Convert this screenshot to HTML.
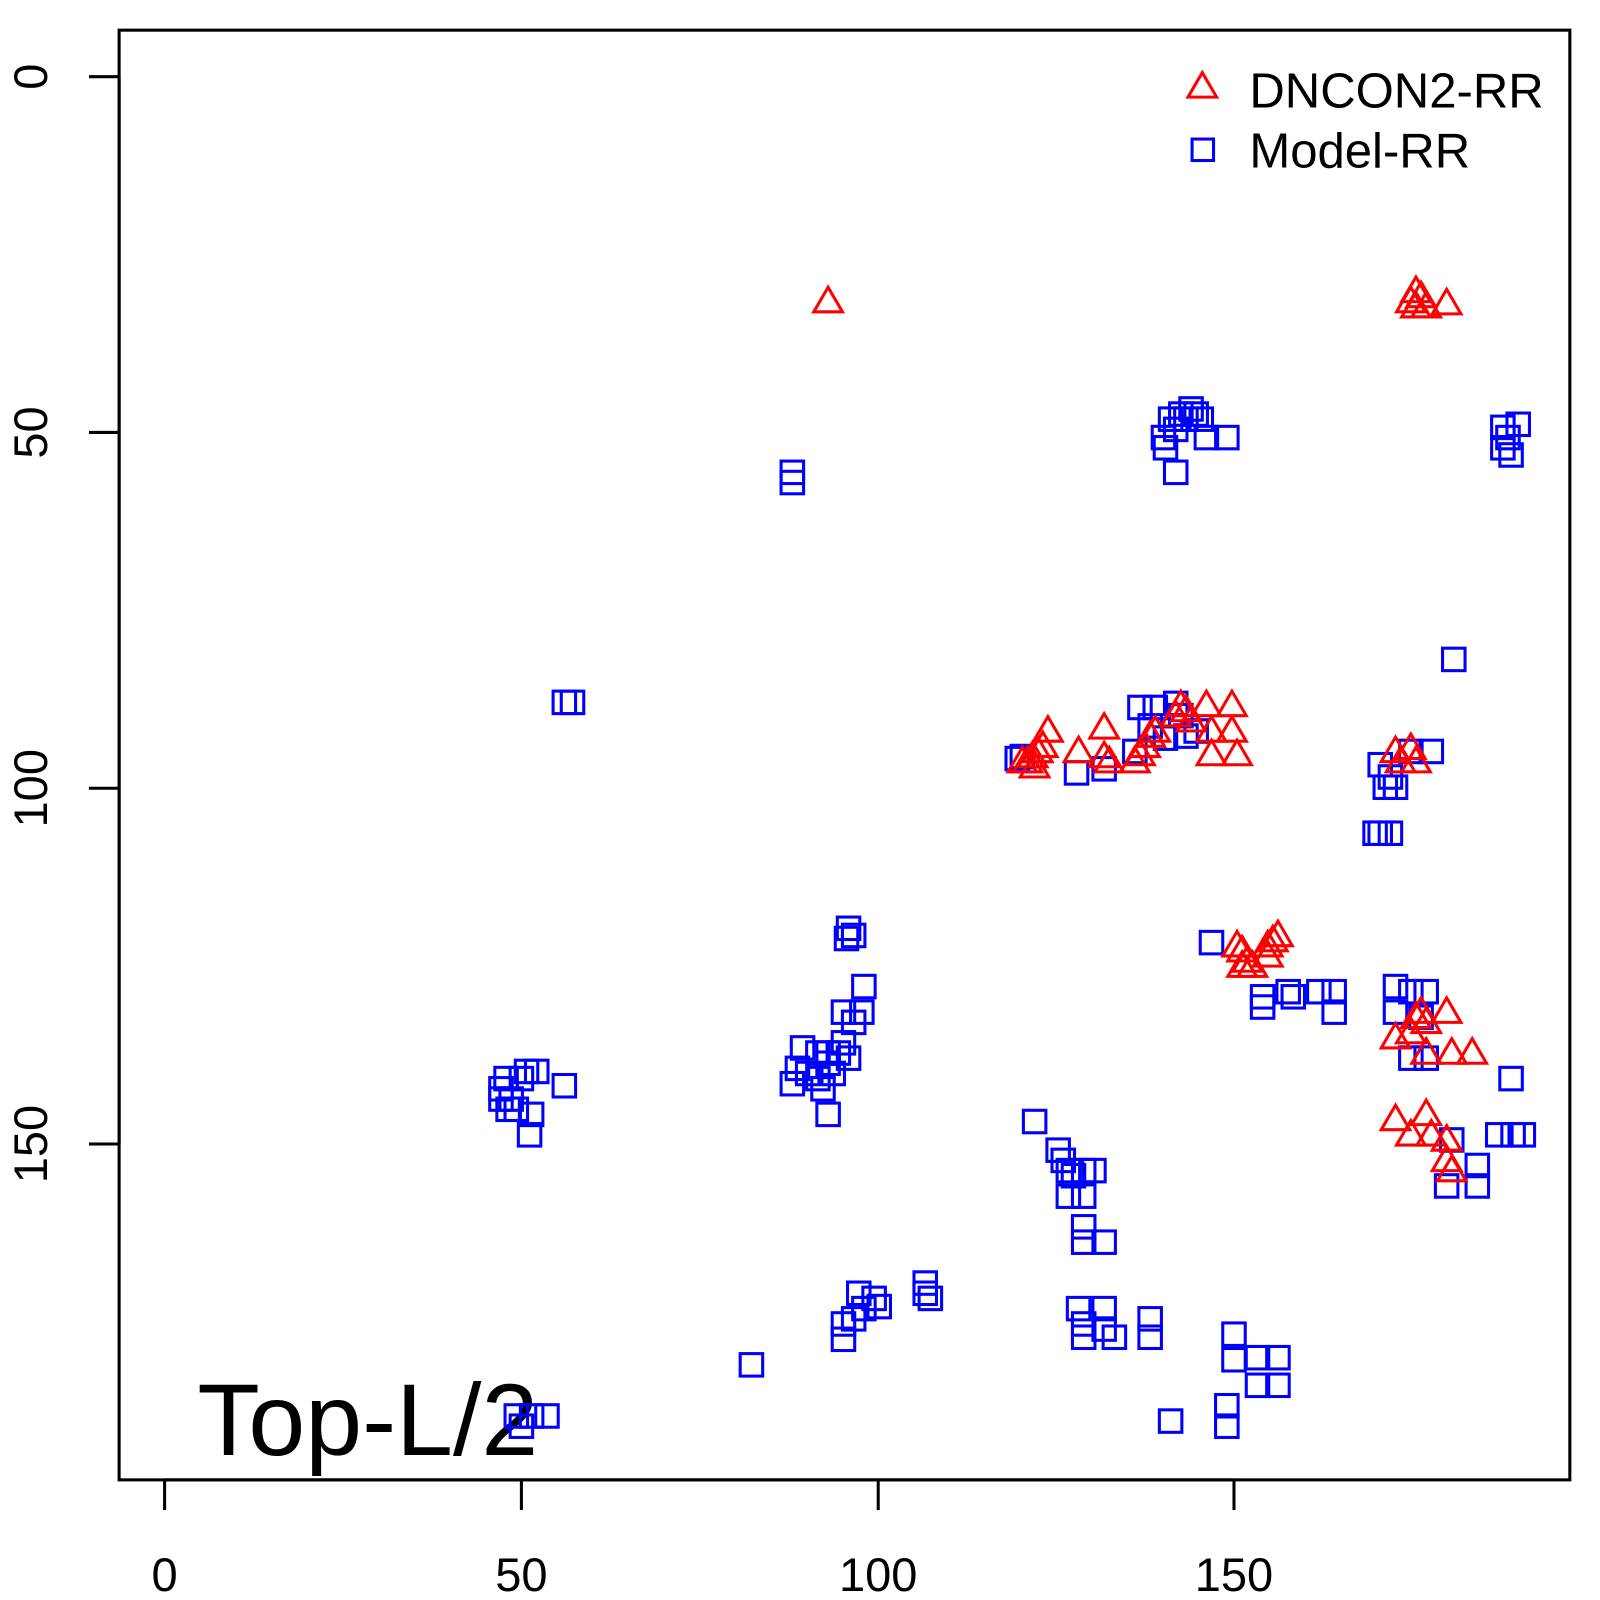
<!DOCTYPE html>
<html><head><meta charset="utf-8"><style>
html,body{margin:0;padding:0;background:#fff;width:1600px;height:1600px;overflow:hidden}
svg{display:block}
text{font-family:"Liberation Sans",sans-serif;fill:#000}
</style></head><body>
<svg id="s" width="1600" height="1600" viewBox="0 0 1565 1565" xmlns="http://www.w3.org/2000/svg">
<rect x="116.5" y="29.5" width="1419" height="1418" fill="none" stroke="#000" stroke-width="3"/>
<g stroke="#000" stroke-width="3">
<line x1="161" y1="1447.5" x2="1207" y2="1447.5"/>
<line x1="161" y1="1447.5" x2="161" y2="1477"/>
<line x1="510" y1="1447.5" x2="510" y2="1477"/>
<line x1="859" y1="1447.5" x2="859" y2="1477"/>
<line x1="1207" y1="1447.5" x2="1207" y2="1477"/>
<line x1="116.5" y1="75" x2="116.5" y2="1119"/>
<line x1="87" y1="75" x2="116.5" y2="75"/>
<line x1="87" y1="423" x2="116.5" y2="423"/>
<line x1="87" y1="771" x2="116.5" y2="771"/>
<line x1="87" y1="1119" x2="116.5" y2="1119"/>
</g>
<g font-size="46" text-anchor="middle">
<text x="161" y="1556">0</text>
<text x="510" y="1556">50</text>
<text x="859" y="1556">100</text>
<text x="1207" y="1556">150</text>
<text transform="translate(46,75) rotate(-90)">0</text>
<text transform="translate(46,423) rotate(-90)">50</text>
<text transform="translate(46,771) rotate(-90)">100</text>
<text transform="translate(46,1119) rotate(-90)">150</text>
</g>
<text x="193" y="1423" font-size="100">Top-L/2</text>
<polygon points="1162,95 1190,95 1176,71" fill="none" stroke="#f00" stroke-width="3"/>
<rect x="1166" y="136" width="21" height="21" fill="none" stroke="#00f" stroke-width="3"/>
<text x="1222" y="105" font-size="48">DNCON2-RR</text>
<text x="1222" y="164" font-size="48">Model-RR</text>
<g id="sq" fill="none" stroke="#00f" stroke-width="3"></g>
<g id="tr" fill="none" stroke="#f00" stroke-width="3"></g>
</svg>
<script>
var sq=[[775,462],[775,472],[552,687],[560,687],[1138,428],[1140,438],[1145,410],[1150,420],[1155,405],[1160,410],[1165,400],[1170,405],[1175,410],[1180,428],[1200,428],[1150,462],[1470,418],[1475,428],[1470,438],[1478,445],[1485,415],[1422,645],[995,742],[1000,740],[1053,756],[1080,752],[1110,735],[1115,692],[1125,710],[1130,692],[1140,722],[1150,688],[1155,700],[1160,720],[1170,715],[1380,735],[1400,735],[1350,748],[1355,770],[1360,760],[1365,770],[1345,815],[1350,815],[1360,815],[830,908],[835,915],[828,918],[845,965],[843,990],[825,990],[835,1000],[785,1025],[800,1030],[810,1030],[820,1030],[825,1020],[830,1035],[775,1060],[780,1045],[790,1050],[800,1055],[805,1065],[810,1040],[815,1050],[810,1090],[490,1065],[490,1075],[495,1055],[500,1075],[505,1085],[510,1055],[515,1048],[520,1090],[518,1110],[525,1048],[552,1062],[497,1085],[1185,922],[1235,975],[1235,985],[1260,970],[1265,975],[1290,970],[1305,970],[1305,990],[1365,965],[1365,990],[1380,970],[1395,970],[1390,995],[1380,1035],[1395,1035],[1478,1055],[1012,1097],[1035,1125],[1040,1135],[1045,1145],[1050,1150],[1060,1145],[1070,1145],[1045,1170],[1060,1170],[1060,1200],[1060,1215],[1080,1215],[1420,1115],[1415,1160],[1445,1140],[1445,1160],[1465,1110],[1480,1110],[1490,1110],[905,1255],[910,1270],[905,1265],[840,1265],[845,1280],[855,1270],[860,1278],[835,1290],[825,1295],[825,1310],[735,1335],[1055,1280],[1060,1295],[1060,1308],[1080,1280],[1080,1300],[1090,1308],[1125,1290],[1125,1308],[1207,1305],[1207,1330],[1230,1328],[1230,1355],[1250,1328],[1250,1355],[1145,1390],[1200,1375],[1200,1395],[505,1385],[510,1395],[520,1385],[535,1385]];
var tr=[[810,295],[1385,285],[1390,290],[1380,295],[1395,300],[1415,297],[1385,300],[1005,745],[1010,740],[1015,735],[1020,730],[1025,715],[1012,750],[1000,745],[1055,735],[1080,712],[1080,740],[1085,745],[1110,745],[1115,738],[1120,730],[1125,720],[1130,715],[1150,700],[1155,690],[1160,695],[1165,705],[1180,690],[1185,715],[1185,738],[1205,690],[1205,715],[1210,738],[1365,735],[1370,745],[1380,732],[1385,745],[1210,925],[1215,930],[1220,940],[1215,945],[1225,945],[1240,935],[1245,920],[1250,915],[1240,925],[1365,1015],[1380,1010],[1385,995],[1390,990],[1395,1000],[1415,990],[1420,1030],[1440,1030],[1395,1030],[1365,1095],[1380,1110],[1395,1090],[1400,1110],[1415,1115],[1415,1135],[1420,1145]];
var ns="http://www.w3.org/2000/svg",g1=document.getElementById("sq"),g2=document.getElementById("tr");
sq.forEach(function(p){var r=document.createElementNS(ns,"rect");r.setAttribute("x",p[0]-11);r.setAttribute("y",p[1]-11);r.setAttribute("width",22);r.setAttribute("height",22);g1.appendChild(r);});
tr.forEach(function(p){var t=document.createElementNS(ns,"polygon");var x=p[0],y=p[1];t.setAttribute("points",(x-14)+","+(y+10)+" "+(x+14)+","+(y+10)+" "+x+","+(y-14));g2.appendChild(t);});
</script>
</body></html>
